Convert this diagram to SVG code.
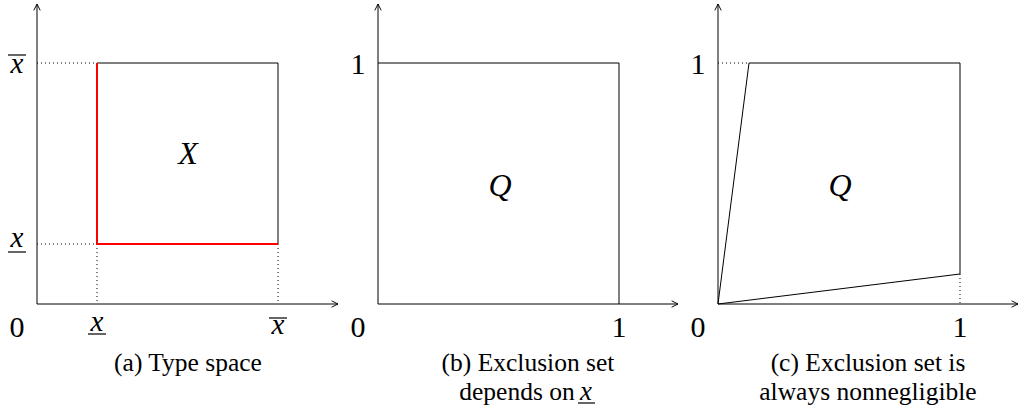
<svg xmlns="http://www.w3.org/2000/svg" width="1019" height="411" viewBox="0 0 1019 411">
<style>
.ax{stroke:#000;stroke-width:1;fill:none}
.sh{stroke:#000;stroke-width:1;fill:none}
.dot{stroke:#000;stroke-width:1;stroke-dasharray:1 3;fill:none}
.red{stroke:#f00;stroke-width:2;fill:none}
.bar{stroke:#000;stroke-width:1.2}
.num{font-size:30px;text-anchor:middle}
.var{font-size:29px;font-style:italic;text-anchor:middle}
.cap{font-size:25.5px;text-anchor:middle}
.cal{font-size:32px;font-style:italic;text-anchor:middle}
</style>
<defs>
<marker id="ar" viewBox="0 0 10 10" refX="9" refY="5" markerWidth="8" markerHeight="8" markerUnits="userSpaceOnUse" orient="auto">
<path d="M1,1 L9,5 L1,9" fill="none" stroke="#000" stroke-width="1.2"/>
</marker>
</defs>

<g id="connectors">
<line class="ax" x1="37" y1="304" x2="37" y2="4" marker-end="url(#ar)"/>
<line class="ax" x1="37" y1="304" x2="338" y2="304" marker-end="url(#ar)"/>
<line class="ax" x1="378" y1="304" x2="378" y2="4" marker-end="url(#ar)"/>
<line class="ax" x1="378" y1="304" x2="678" y2="304" marker-end="url(#ar)"/>
<line class="ax" x1="718" y1="304" x2="718" y2="4" marker-end="url(#ar)"/>
<line class="ax" x1="718" y1="304" x2="1018" y2="304" marker-end="url(#ar)"/>
</g>

<g id="panel-a" font-family="'Liberation Serif', 'Times New Roman', serif">
<line class="dot" x1="37" y1="63" x2="97" y2="63"/>
<line class="dot" x1="37" y1="244" x2="97" y2="244"/>
<line class="dot" x1="97" y1="244" x2="97" y2="304"/>
<line class="dot" x1="278" y1="244" x2="278" y2="304"/>
<path class="sh" d="M97,63 H278 V244"/>
<path class="red" d="M97,63 V244 H278"/>
<text class="cal" x="188" y="164">X</text>
<text class="var" x="17" y="73">x</text>
<line class="bar" x1="8" y1="55" x2="26" y2="55"/>
<text class="var" x="17" y="247">x</text>
<line class="bar" x1="8" y1="252" x2="26" y2="252"/>
<text class="num" x="17" y="337">0</text>
<text class="var" x="97" y="331">x</text>
<line class="bar" x1="88" y1="334" x2="106" y2="334"/>
<text class="var" x="278" y="334">x</text>
<line class="bar" x1="269" y1="318" x2="287" y2="318"/>
<text class="cap" x="188" y="371">(a) Type space</text>
</g>

<g id="panel-b" font-family="'Liberation Serif', 'Times New Roman', serif">
<path class="sh" d="M378,63 H619 V304"/>
<text class="cal" x="500" y="196">Q</text>
<text class="num" x="358" y="74">1</text>
<text class="num" x="358" y="337">0</text>
<text class="num" x="619" y="337">1</text>
<text class="cap" x="528" y="371">(b) Exclusion set</text>
<text class="cap" x="517" y="400">depends on</text>
<text class="var" x="586" y="400" style="font-size:27px">x</text>
<line class="bar" x1="578" y1="403" x2="595" y2="403"/>
</g>

<g id="panel-c" font-family="'Liberation Serif', 'Times New Roman', serif">
<line class="dot" x1="718" y1="63" x2="749" y2="63"/>
<line class="dot" x1="960" y1="274" x2="960" y2="304"/>
<path class="sh" d="M718,304 L749,63 H960 V274 Z"/>
<text class="cal" x="840" y="196">Q</text>
<text class="num" x="698" y="74">1</text>
<text class="num" x="698" y="337">0</text>
<text class="num" x="960" y="337">1</text>
<text class="cap" x="868" y="371">(c) Exclusion set is</text>
<text class="cap" x="868" y="400">always nonnegligible</text>
</g>
</svg>
